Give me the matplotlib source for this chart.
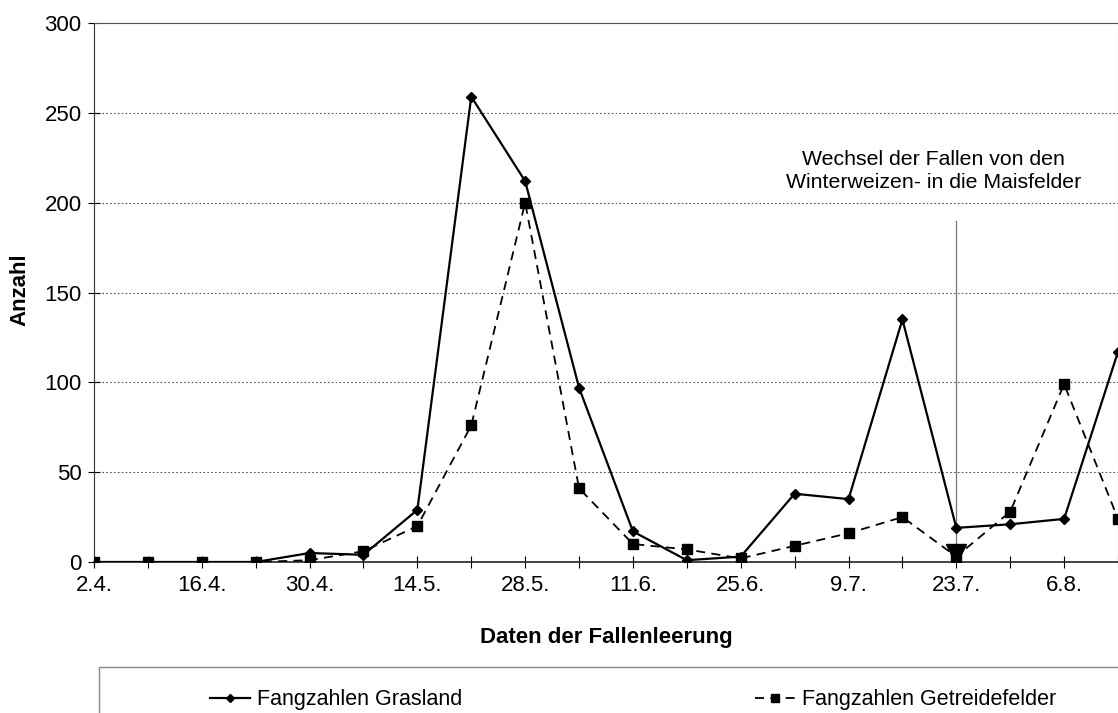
import matplotlib
matplotlib.use("Agg")
import matplotlib.pyplot as plt
from matplotlib.patches import Rectangle

plt.rcParams['font.family'] = ['Liberation Sans', 'DejaVu Sans']

# Leerungstermine (woechentlich)
dates = ["2.4.", "9.4.", "16.4.", "23.4.", "30.4.", "7.5.", "14.5.", "21.5.", "28.5.", "4.6.",
         "11.6.", "18.6.", "25.6.", "2.7.", "9.7.", "16.7.", "23.7.", "30.7.", "6.8.", "13.8."]
grasland = [0, 0, 0, 0, 5, 4, 29, 259, 212, 97, 17, 1, 3, 38, 35, 135, 19, 21, 24, 117]
getreide = [0, 0, 0, 0, 1, 6, 20, 76, 200, 41, 10, 7, 2, 9, 16, 25, 3, 28, 99, 24]
y_ticks = [0, 50, 100, 150, 200, 250, 300]

switch_date = "23.7."
switch_text = "Wechsel der Fallen von den\nWinterweizen- in die Maisfelder"

W, H = 1118, 713
fig = plt.figure(figsize=(W / 100, H / 100), dpi=100)
ax = fig.add_axes([94 / W, (H - 562) / H, 1024 / W, 539 / H])

x = list(range(len(dates)))
ax.plot(x, grasland, color="black", lw=1.6, marker="D", ms=5.5,
        label="Fangzahlen Grasland", zorder=4)
ax.plot(x, getreide, color="black", lw=1.3, ls=(0, (5, 3.5)), marker="s", ms=7,
        label="Fangzahlen Getreidefelder", zorder=3)

# Markierung Fallenwechsel
xs = dates.index(switch_date)
ax.plot([xs, xs], [3, 190], color="#777777", lw=0.9, zorder=2)
ax.plot([xs], [4.5], marker="v", ms=14, color="black", zorder=5)
ax.text(xs - 0.42, 217.5, switch_text, ha="center", va="center",
        fontsize=15.3, linespacing=1.25)

ax.set_xlim(0, len(dates) - 1)
ax.set_ylim(0, 300)
ax.set_xticks(x)
ax.set_xticklabels([d if i % 2 == 0 else "" for i, d in enumerate(dates)])
ax.set_yticks(y_ticks)
ax.tick_params(axis="x", direction="inout", length=9, width=0.8, pad=5, labelsize=16)
ax.tick_params(axis="y", direction="inout", length=8, width=0.8, pad=5, labelsize=16)

for v in y_ticks[1:-1]:
    ax.axhline(v, color="#555555", lw=0.8, ls=(0, (1.5, 2)), zorder=1)

ax.spines["left"].set_color("#333333")
ax.spines["bottom"].set_color("#222222")
ax.spines["bottom"].set_linewidth(1.2)
ax.spines["top"].set_color("#555555")
ax.spines["right"].set_color("#aaaaaa")

ax.set_xlabel("Daten der Fallenleerung", fontsize=16, fontweight="bold")
ax.xaxis.set_label_coords(0.5, -0.12)
ax.set_ylabel("Anzahl", fontsize=16, fontweight="bold", va="center")
ax.yaxis.set_label_coords(-0.0723, 0.505)

# Legendenrahmen (unten abgeschnitten)
fig.patches.append(Rectangle((99 / W, -0.05), 1.0, (H - 667) / H + 0.05,
                             transform=fig.transFigure, fill=False,
                             edgecolor="#888888", lw=1.0))
fig.legend(loc="center left", bbox_to_anchor=(210 / W, (H - 700) / H),
           ncol=2, frameon=False, fontsize=15.5, handlelength=1.86,
           handletextpad=0.32, columnspacing=13.6, borderpad=0, borderaxespad=0,
           markerscale=0.75)

fig.savefig("out.png", dpi=100)
